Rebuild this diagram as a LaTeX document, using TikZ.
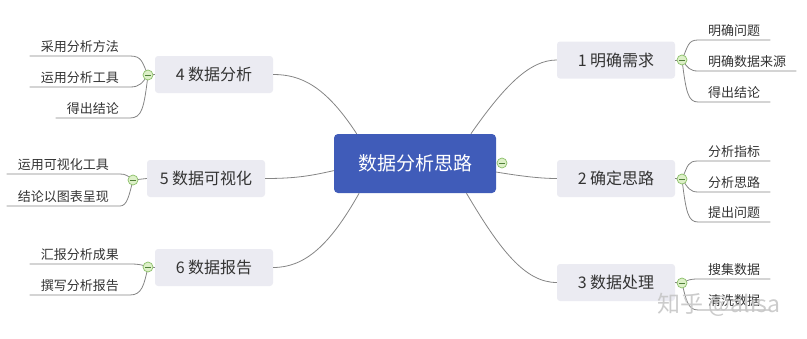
\documentclass[tikz,border=0pt]{standalone}
\usepackage{fontspec}
\setmainfont{Noto Sans CJK SC}
\usetikzlibrary{calc}
\definecolor{ctrblue}{HTML}{405CB9}
\definecolor{topicfill}{HTML}{EBEBF2}
\definecolor{textgray}{HTML}{333333}
\definecolor{linegray}{HTML}{858585}
\definecolor{foldfill}{HTML}{DDF0C8}
\definecolor{folddraw}{HTML}{8CC06A}
\definecolor{foldminus}{HTML}{4F7F38}
\begin{document}
\begin{tikzpicture}[x=1pt,y=-1pt,
  ctrbox/.style={fill=ctrblue, rounded corners=4pt, minimum width=162pt, minimum height=59pt, inner sep=0pt, text=white, font=\fontsize{19}{19}\selectfont},
  topicbox/.style={fill=topicfill, rounded corners=3pt, minimum width=118pt, minimum height=37pt, inner sep=0pt, text=textgray, font=\fontsize{16}{16}\selectfont},
  rleaf/.style={anchor=south west, inner xsep=10pt, inner ysep=3pt, text=textgray, font=\fontsize{13}{13}\selectfont},
  lleaf/.style={anchor=south east, inner xsep=11pt, inner ysep=3pt, text=textgray, font=\fontsize{13}{13}\selectfont},
  conn/.style={draw=linegray, line width=0.8pt},
  fold/.style={circle, draw=folddraw, fill=foldfill, line width=0.7pt, minimum size=10pt, inner sep=0pt,
    path picture={\draw[foldminus, line width=0.8pt] ([xshift=-3pt]path picture bounding box.center) -- ([xshift=3pt]path picture bounding box.center);}},
  wm/.style={text=gray!45, font=\fontsize{23}{23}\selectfont, opacity=0.9}
]
\useasboundingbox (0,0) rectangle (807,338);

% center and topics
\node[ctrbox] (ctr) at (415,163.5) {数据分析思路};
\node[topicbox] (t1) at (616,60) {1 明确需求};
\node[topicbox] (t2) at (616,178.5) {2 确定思路};
\node[topicbox] (t3) at (616,282.5) {3 数据处理};
\node[topicbox] (t4) at (214,74.5) {4 数据分析};
\node[topicbox] (t5) at (206,178.5) {5 数据可视化};
\node[topicbox] (t6) at (214,267.5) {6 数据报告};

% fold markers positions
\coordinate (f0) at (502,163);
\coordinate (f1) at (682,60);
\coordinate (f2) at (682,179);
\coordinate (f3) at (682,283);
\coordinate (f4) at (148,75);
\coordinate (f5) at (133,180);
\coordinate (f6) at (148,267);

% center connectors
\draw[conn] (ctr.28) .. controls (505,85) and (530,60) .. (t1.west);
\draw[conn] (ctr.-6) .. controls (520,176) and (540,178.5) .. (t2.west);
\draw[conn] (ctr.-30) .. controls (500,250) and (525,282.5) .. (t3.west);
\draw[conn] (ctr.153) .. controls (325,85) and (300,74.5) .. (t4.east);
\draw[conn] (ctr.185) .. controls (310,176) and (295,178.5) .. (t5.east);
\draw[conn] (ctr.208) .. controls (330,245) and (305,267.5) .. (t6.east);

% right leaves
\node[rleaf] (l1a) at (698,40) {明确问题};
\node[rleaf] (l1b) at (698,71) {明确数据来源};
\node[rleaf] (l1c) at (698,102) {得出结论};
\node[rleaf] (l2a) at (698,161) {分析指标};
\node[rleaf] (l2b) at (698,192) {分析思路};
\node[rleaf] (l2c) at (698,222) {提出问题};
\node[rleaf] (l3a) at (698,279) {搜集数据};
\node[rleaf] (l3b) at (698,310) {清洗数据};

% left leaves
\node[lleaf] (l4a) at (130,56) {采用分析方法};
\node[lleaf] (l4b) at (130,87) {运用分析工具};
\node[lleaf] (l4c) at (130,118) {得出结论};
\node[lleaf] (l5a) at (120,174) {运用可视化工具};
\node[lleaf] (l5b) at (120,206) {结论以图表呈现};
\node[lleaf] (l6a) at (130,264) {汇报分析成果};
\node[lleaf] (l6b) at (130,295) {撰写分析报告};

% topic to fold
\draw[conn] (t1.east) -- (f1);
\draw[conn] (t2.east) -- (f2);
\draw[conn] (t3.east) -- (f3);
\draw[conn] (t4.west) -- (f4);
\draw[conn] (t5.west) -- (f5);
\draw[conn] (t6.west) -- (f6);

% fold to leaves (right)
\draw[conn] (f1) .. controls (688,46) and (688,40) .. (l1a.south west) -- (l1a.south east);
\draw[conn] (f1) .. controls (688,68) and (690,71) .. (l1b.south west) -- (l1b.south east);
\draw[conn] (f1) .. controls (686,92) and (688,102) .. (l1c.south west) -- (l1c.south east);
\draw[conn] (f2) .. controls (688,165) and (688,161) .. (l2a.south west) -- (l2a.south east);
\draw[conn] (f2) .. controls (688,188) and (690,192) .. (l2b.south west) -- (l2b.south east);
\draw[conn] (f2) .. controls (686,212) and (688,222) .. (l2c.south west) -- (l2c.south east);
\draw[conn] (f3) .. controls (688,280) and (690,279) .. (l3a.south west) -- (l3a.south east);
\draw[conn] (f3) .. controls (686,300) and (688,310) .. (l3b.south west) -- (l3b.south east);

% fold to leaves (left)
\draw[conn] (f4) .. controls (142,62) and (142,56) .. (l4a.south east) -- (l4a.south west);
\draw[conn] (f4) .. controls (142,83) and (140,87) .. (l4b.south east) -- (l4b.south west);
\draw[conn] (f4) .. controls (144,108) and (142,118) .. (l4c.south east) -- (l4c.south west);
\draw[conn] (f5) .. controls (128,176) and (126,174) .. (l5a.south east) -- (l5a.south west);
\draw[conn] (f5) .. controls (129,196) and (127,206) .. (l5b.south east) -- (l5b.south west);
\draw[conn] (f6) .. controls (142,265) and (140,264) .. (l6a.south east) -- (l6a.south west);
\draw[conn] (f6) .. controls (144,285) and (142,295) .. (l6b.south east) -- (l6b.south west);

% fold markers
\node[fold] (m0) at (f0) {};
\node[fold] (m1) at (f1) {};
\node[fold] (m2) at (f2) {};
\node[fold] (m3) at (f3) {};
\node[fold] (m4) at (f4) {};
\node[fold] (m5) at (f5) {};
\node[fold] (m6) at (f6) {};

% watermark
\node[wm] (wmark) at (719,305) {知乎 @alisa};
\end{tikzpicture}
\end{document}
